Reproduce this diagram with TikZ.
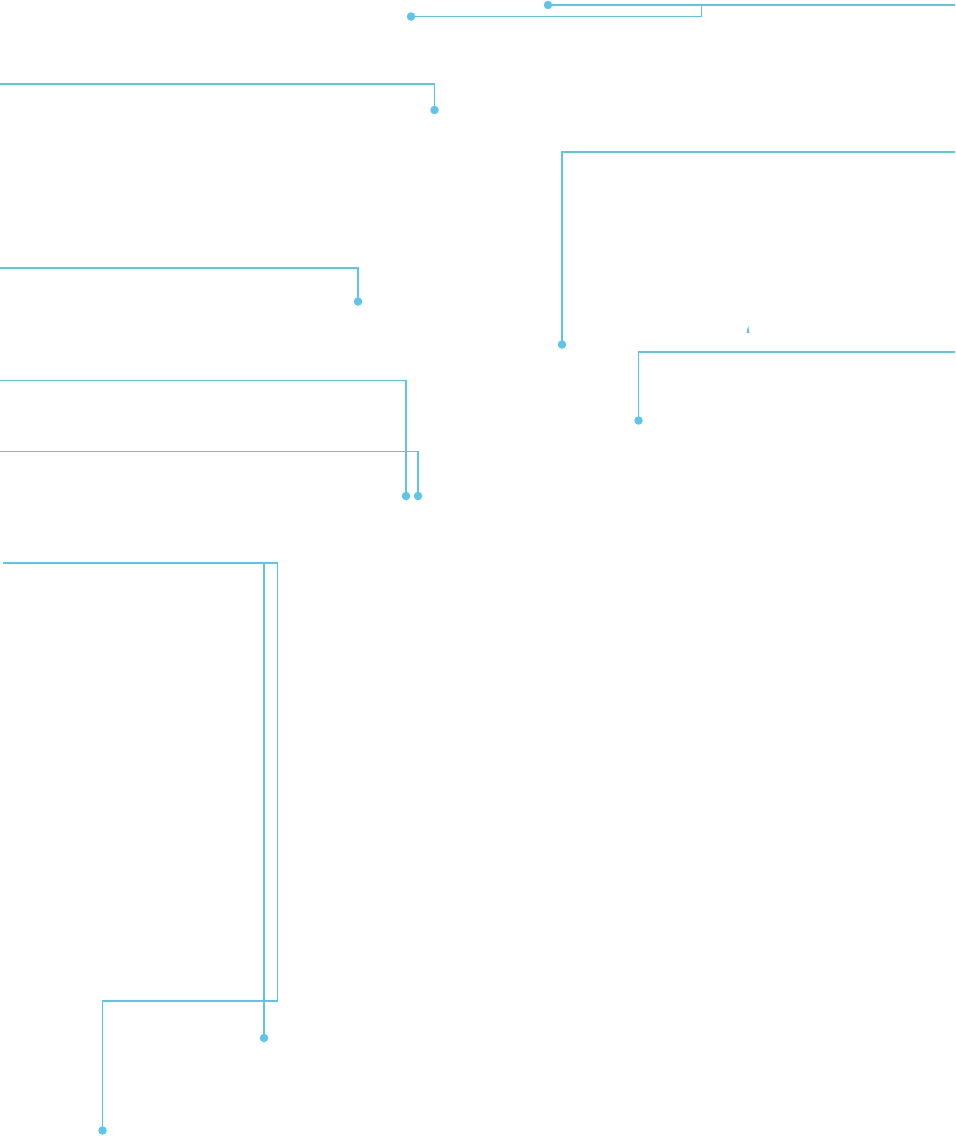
\documentclass[tikz,border=0pt]{standalone}
\begin{document}
\begin{tikzpicture}[x=1pt,y=-1pt,
  lead/.style={draw=lineblue,line width=1.9pt},
  dotnode/.style={circle,fill=lineblue,inner sep=0pt,minimum size=8.5pt}]
\definecolor{lineblue}{HTML}{5BC5EA}
\useasboundingbox (0,0) rectangle (956,1136);
% dots
\node[dotnode] (d1) at (548,5) {};
\node[dotnode] (d2) at (411,16.5) {};
\node[dotnode] (d3) at (434.5,110) {};
\node[dotnode] (d4) at (562,344.5) {};
\node[dotnode] (d5) at (358,301.5) {};
\node[dotnode] (d6) at (638.5,420.5) {};
\node[dotnode] (d7) at (406,496) {};
\node[dotnode] (d8) at (418,496) {};
\node[dotnode] (d9) at (102.5,1130.5) {};
\node[dotnode] (d10) at (264,1038) {};
% free ends
\coordinate (e1) at (955,5);
\coordinate (e3) at (0,84);
\coordinate (e4) at (955,152);
\coordinate (e5) at (0,268);
\coordinate (e6) at (955,352);
\coordinate (e7) at (0,380.5);
\coordinate (e8) at (0,451.5);
\coordinate (e9) at (3,563);
% leaders
\draw[lead] (d1.center) -- (e1);
\draw[lead] (d2.center) -- (701.5,16.5) -- (701.5,5);
\draw[lead] (e3) -- (434.5,84) -- (d3.center);
\draw[lead] (e4) -- (562,152) -- (d4.center);
\draw[lead] (e5) -- (358,268) -- (d5.center);
\draw[lead] (e6) -- (638.5,352) -- (d6.center);
\draw[lead] (e7) -- (406,380.5) -- (d7.center);
\draw[lead] (e8) -- (418,451.5) -- (d8.center);
\draw[lead] (e9) -- (277.5,563) -- (277.5,1001) -- (102.5,1001) -- (d9.center);
\draw[lead] (264,563) -- (d10.center);
% small mark
\fill[lineblue] (746.5,333) -- (748.2,325.5) -- (749.5,333) -- cycle;
\end{tikzpicture}
\end{document}
